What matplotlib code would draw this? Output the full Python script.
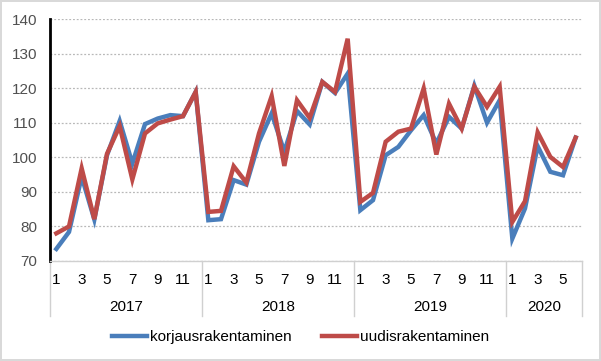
import matplotlib
matplotlib.use("Agg")
import matplotlib.pyplot as plt

years = ["2017", "2018", "2019", "2020"]
months_per_year = [12, 12, 12, 6]

korjaus = [73.5, 78.4, 94.4, 82.0, 100.6, 110.5, 98.2, 109.6, 111.2, 112.2, 111.9, 118.9,
           81.8, 82.1, 93.4, 92.1, 104.5, 112.7, 101.6, 113.4, 109.5, 121.8, 118.6, 124.2,
           84.7, 87.6, 100.6, 103.0, 107.8, 112.2, 104.0, 111.7, 108.3, 120.7, 110.0, 116.5,
           76.5, 85.2, 103.2, 95.8, 94.8, 105.7]
uudis = [78.0, 80.0, 96.8, 82.1, 101.0, 109.0, 93.6, 106.9, 109.8, 110.9, 111.9, 118.9,
         84.2, 84.5, 97.4, 92.7, 106.9, 117.7, 97.5, 116.5, 111.4, 121.8, 118.9, 134.3,
         87.1, 89.7, 104.5, 107.4, 108.3, 119.9, 100.8, 115.5, 108.3, 120.4, 114.6, 120.4,
         81.3, 87.3, 107.2, 100.1, 97.2, 105.7]

plt.rcParams['font.family'] = ['Liberation Sans', 'DejaVu Sans']
fs = 11

fig = plt.figure(figsize=(6.01, 3.61), dpi=100, edgecolor='#d9d9d9', linewidth=1.5)
ax = fig.add_axes([50 / 601, 1 - 261 / 361, 532 / 601, 242 / 361])

x = list(range(len(korjaus)))
ax.plot(x, korjaus, color='#4a7ebb', lw=3.2, solid_joinstyle='miter', label='korjausrakentaminen')
ax.plot(x, uudis, color='#be4b48', lw=3.2, solid_joinstyle='miter', label='uudisrakentaminen')

ax.set_xlim(-0.5, len(x) - 0.5)
ax.set_ylim(70, 140)
ax.set_yticks(range(70, 141, 10))
ax.tick_params(axis='y', length=0, pad=9, labelsize=fs, labelcolor='#505050')
ax.set_xticks([])
ax.grid(axis='y', color='#b8b8b8', ls=(0, (1.5, 1.5)), lw=0.9)
ax.set_axisbelow(True)
for s in ['top', 'right']:
    ax.spines[s].set_visible(False)
ax.spines['left'].set_color('black')
ax.spines['left'].set_linewidth(2)
ax.spines['bottom'].set_color('#d0d0d0')
ax.spines['bottom'].set_linewidth(1)

trans = ax.get_xaxis_transform()
h = 242.0
start = 0
bounds = [-0.5]
for yr, n in zip(years, months_per_year):
    for m in range(1, n + 1, 2):
        ax.text(start + m - 1, -19 / h, str(m), transform=trans, ha='center', va='center', fontsize=fs)
    ax.text(start + (n - 1) / 2, -46 / h, yr, transform=trans, ha='center', va='center', fontsize=fs)
    start += n
    bounds.append(start - 0.5)
for b in bounds:
    ax.plot([b, b], [0, -55 / h], transform=trans, color='#d0d0d0', lw=1, clip_on=False)

fig.legend(loc='center', bbox_to_anchor=(0.5, 1 - 337 / 361), ncol=2, frameon=False,
           fontsize=fs, handlelength=2.3, handletextpad=0.2, columnspacing=2.0)

fig.savefig('out.png', dpi=100)
